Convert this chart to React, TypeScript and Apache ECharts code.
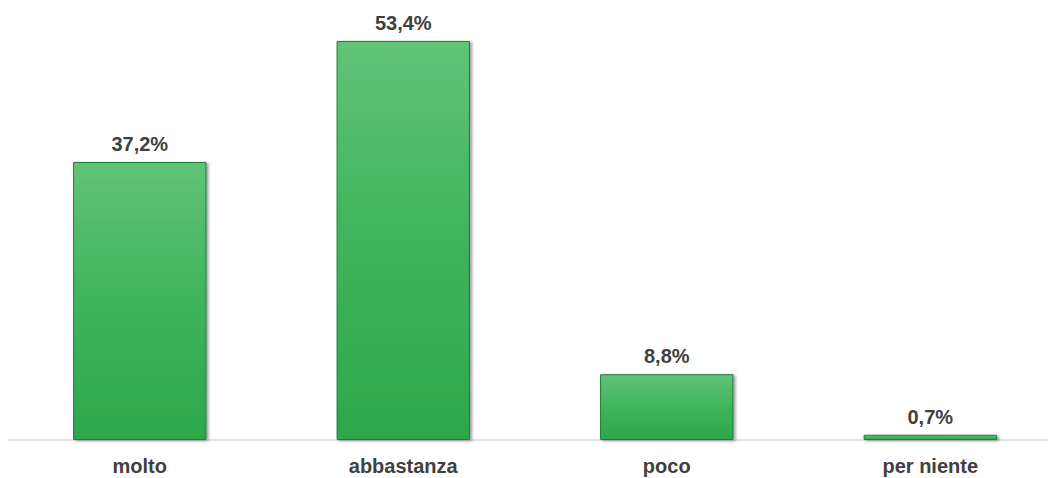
import React, { useEffect, useRef } from "react";
import * as echarts from "echarts";

const categories = ["molto", "abbastanza", "poco", "per niente"];
const values = [37.2, 53.4, 8.8, 0.7];
const valueLabels = ["37,2%", "53,4%", "8,8%", "0,7%"];

export default function App() {
  const ref = useRef<HTMLDivElement>(null);
  useEffect(() => {
    if (!ref.current) return;
    const chart = echarts.init(ref.current, undefined, { renderer: "svg" });
    chart.setOption({
      animation: false,
      backgroundColor: "#ffffff",
      grid: {
        left: 8,
        width: 1054,
        top: 29,
        bottom: 38,
        containLabel: false,
        outerBoundsMode: "none",
      },
      xAxis: {
        type: "category",
        data: categories,
        axisLine: { show: true, lineStyle: { color: "#d9d9d9", width: 1.5 } },
        axisTick: { show: false },
        axisLabel: {
          color: "#404040",
          fontFamily: "Liberation Sans, Arial, sans-serif",
          fontWeight: "bold",
          fontSize: 20,
          margin: 16,
        },
      },
      yAxis: {
        type: "value",
        min: 0,
        max: 55,
        show: false,
        splitLine: { show: false },
      },
      series: [
        {
          type: "bar",
          data: values,
          barWidth: "50.6%",
          itemStyle: {
            color: new echarts.graphic.LinearGradient(0, 0, 0, 1, [
              { offset: 0, color: "#62c377" },
              { offset: 0.5, color: "#3fb45c" },
              { offset: 1, color: "#2ca74b" },
            ]),
            borderColor: "#1f7d38",
            borderWidth: 1,
            shadowColor: "rgba(0,0,0,0.4)",
            shadowBlur: 3,
            shadowOffsetX: 2,
            shadowOffsetY: 1,
          },
          label: {
            show: true,
            position: "top",
            distance: 8,
            color: "#404040",
            fontFamily: "Liberation Sans, Arial, sans-serif",
            fontWeight: "bold",
            fontSize: 20,
            formatter: (p: any) => valueLabels[p.dataIndex],
          },
        },
      ],
    });
    return () => chart.dispose();
  }, []);
  return (
    <div
      ref={ref}
      style={{ width: 1056, height: 478, marginLeft: -8, marginTop: -8 }}
    />
  );
}
